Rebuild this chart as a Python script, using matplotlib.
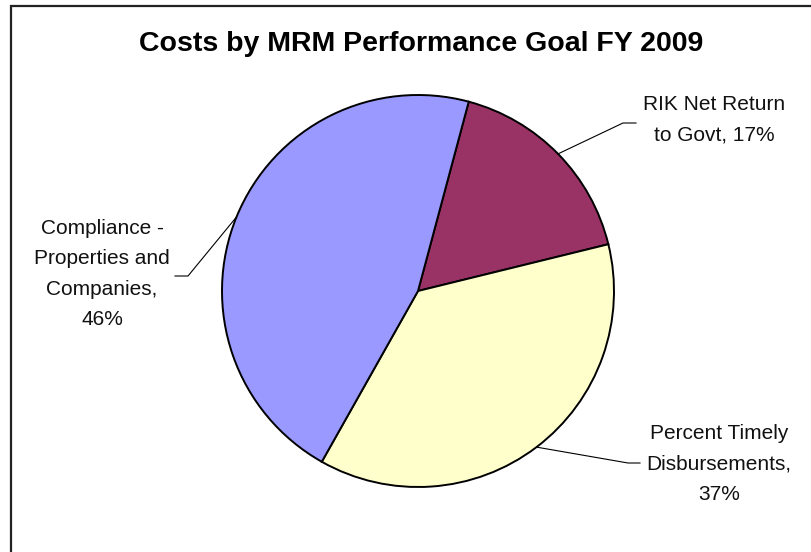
import numpy as np
import matplotlib
matplotlib.use("Agg")
import matplotlib.pyplot as plt

plt.rcParams["font.family"] = ["Liberation Sans", "DejaVu Sans"]

# data
labels = ["RIK Net Return\nto Govt, 17%",
          "Percent Timely\nDisbursements,\n37%",
          "Compliance -\nProperties and\nCompanies,\n46%"]
shares = [17, 37, 46]
colors = ["#993366", "#FFFFCC", "#9999FF"]
title = "Costs by MRM Performance Goal FY 2009"

W, H = 812, 552
fig = plt.figure(figsize=(W / 100, H / 100), dpi=100)
ax = fig.add_axes([0, 0, 1, 1])

cx, cy, r = 418, H - 291, 196
wedges, _ = ax.pie(shares, colors=colors, startangle=75, counterclock=False,
                   center=(cx, cy), radius=r,
                   wedgeprops=dict(edgecolor="black", linewidth=1.4))
ax.set_xlim(0, W)
ax.set_ylim(0, H)
ax.set_aspect("equal")
ax.axis("off")

# chart area frame (only left and top edges fall inside the picture)
ax.plot([11, 11, W + 5], [-5, H - 6, H - 6], color="#222222", lw=1.6,
        solid_joinstyle="miter")

# leader layout: elbow point, end of horizontal tick, text centre
layout = [
    ((623, H - 123), (636, H - 123), (714, H - 120)),
    ((628, H - 463), (640, H - 463), (719, H - 464)),
    ((188, H - 276), (175, H - 276), (102, H - 274)),
]

for w, lab, (elbow, tick, txt) in zip(wedges, labels, layout):
    mid = np.deg2rad((w.theta1 + w.theta2) / 2)
    x0 = cx + r * np.cos(mid)
    y0 = cy + r * np.sin(mid)
    ax.plot([x0, elbow[0], tick[0]], [y0, elbow[1], tick[1]],
            color="black", lw=0.8)
    ax.text(txt[0], txt[1], lab, ha="center", va="center", fontsize=15,
            linespacing=1.75, color="#111111")

ax.text(421, H - 51, title, ha="center", va="baseline",
        fontsize=20.5, fontweight="bold")

fig.savefig("out.png", dpi=100)
